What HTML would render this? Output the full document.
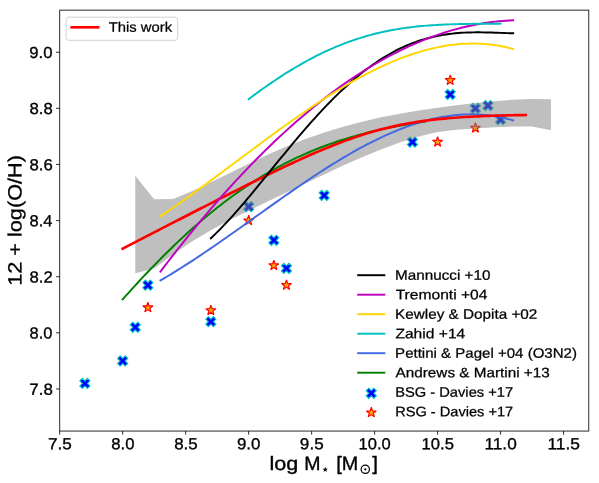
<!DOCTYPE html><html><head><meta charset="utf-8"><style>html,body{margin:0;padding:0;background:#fff}text{text-rendering:geometricPrecision;stroke:#000;stroke-width:.32px;stroke-linejoin:round}</style></head><body><svg width="599" height="483" viewBox="0 0 599 483" style="display:block;font-family:'Liberation Sans',sans-serif;will-change:transform">
<rect width="599" height="483" fill="#fff"/>
<defs>
<path id="mx" d="M-2.54 -5.08 L0.00 -2.54 L2.54 -5.08 L5.08 -2.54 L2.54 0.00 L5.08 2.54 L2.54 5.08 L0.00 2.54 L-2.54 5.08 L-5.08 2.54 L-2.54 0.00 L-5.08 -2.54Z" fill="#0000ff" stroke="#00c4c4" stroke-width="1.1" stroke-linejoin="miter"/>
<path id="ms" d="M0.00 -5.30 L-1.19 -1.64 L-5.04 -1.64 L-1.93 0.63 L-3.12 4.29 L-0.00 2.02 L3.12 4.29 L1.93 0.63 L5.04 -1.64 L1.19 -1.64Z" fill="#ffa500" stroke="#ff0000" stroke-width="1.15" stroke-linejoin="bevel"/>
<path id="mxs" d="M-2.54 -5.08 L0.00 -2.54 L2.54 -5.08 L5.08 -2.54 L2.54 0.00 L5.08 2.54 L2.54 5.08 L0.00 2.54 L-2.54 5.08 L-5.08 2.54 L-2.54 0.00 L-5.08 -2.54Z" fill="#0000ff" stroke="#00c4c4" stroke-width="1.3" stroke-linejoin="miter" transform="scale(0.62)"/>
<path id="mss" d="M0.00 -3.40 L-0.76 -1.05 L-3.23 -1.05 L-1.24 0.40 L-2.00 2.75 L-0.00 1.30 L2.00 2.75 L1.24 0.40 L3.23 -1.05 L0.76 -1.05Z" fill="#ffa500" stroke="#ff0000" stroke-width="1.0" stroke-linejoin="miter"/>
<clipPath id="ax"><rect x="59.70" y="10.15" width="529.05" height="420.90"/></clipPath>
</defs>
<use href="#mx" x="84.89" y="383.40"/>
<use href="#mx" x="122.68" y="360.95"/>
<use href="#mx" x="135.28" y="327.28"/>
<use href="#mx" x="147.87" y="285.19"/>
<use href="#mx" x="210.86" y="321.67"/>
<use href="#mx" x="248.65" y="206.62"/>
<use href="#mx" x="273.84" y="240.29"/>
<use href="#mx" x="286.44" y="268.35"/>
<use href="#mx" x="324.22" y="195.40"/>
<use href="#mx" x="412.40" y="142.08"/>
<use href="#mx" x="450.19" y="94.38"/>
<use href="#mx" x="475.38" y="108.41"/>
<use href="#mx" x="487.98" y="105.60"/>
<use href="#mx" x="500.57" y="119.63"/>
<use href="#ms" x="147.87" y="307.59"/>
<use href="#ms" x="210.86" y="310.39"/>
<use href="#ms" x="248.65" y="220.60"/>
<use href="#ms" x="273.84" y="265.50"/>
<use href="#ms" x="286.44" y="285.14"/>
<use href="#ms" x="437.59" y="142.03"/>
<use href="#ms" x="450.19" y="80.30"/>
<use href="#ms" x="475.38" y="128.00"/>
<path d="M135.28 175.70 L154.17 199.27 L173.07 199.05 L191.96 191.21 L210.86 182.31 L229.75 172.99 L248.65 163.71 L267.54 154.82 L286.44 146.57 L305.33 139.09 L324.23 132.45 L343.12 126.66 L362.01 121.66 L380.91 117.36 L399.80 113.67 L418.70 110.48 L437.59 107.68 L456.49 105.21 L475.38 103.03 L494.28 101.17 L513.17 99.70 L532.07 98.88 L550.96 99.18 L550.96 130.30 L532.07 126.54 L513.17 126.60 L494.28 127.16 L475.38 128.51 L456.49 129.74 L437.59 131.99 L418.70 136.60 L399.80 142.47 L380.91 149.40 L362.01 157.19 L343.12 165.60 L324.23 174.39 L305.33 183.39 L286.44 192.44 L267.54 201.52 L248.65 210.67 L229.75 220.10 L210.86 230.19 L191.96 241.48 L173.07 254.38 L154.17 268.58 L135.28 273.18 Z" fill="#808080" fill-opacity="0.5"/>
<path d="M122.68 299.38 L125.74 295.95 L128.79 292.55 L131.84 289.17 L134.90 285.83 L137.95 282.51 L141.00 279.21 L144.06 275.95 L147.11 272.72 L150.17 269.52 L153.22 266.34 L156.27 263.20 L159.33 260.09 L162.38 257.01 L165.43 253.97 L168.49 250.95 L171.54 247.97 L174.59 245.03 L177.65 242.12 L180.70 239.24 L183.76 236.40 L186.81 233.59 L189.86 230.82 L192.92 228.09 L195.97 225.39 L199.02 222.73 L202.08 220.10 L205.13 217.52 L208.19 214.97 L211.24 212.46 L214.29 209.99 L217.35 207.55 L220.40 205.15 L223.45 202.80 L226.51 200.48 L229.56 198.20 L232.61 195.96 L235.67 193.75 L238.72 191.59 L241.78 189.46 L244.83 187.38 L247.88 185.33 L250.94 183.32 L253.99 181.35 L257.04 179.42 L260.10 177.53 L263.15 175.67 L266.21 173.85 L269.26 172.08 L272.31 170.33 L275.37 168.63 L278.42 166.96 L281.47 165.33 L284.53 163.73 L287.58 162.18 L290.63 160.65 L293.69 159.16 L296.74 157.71 L299.80 156.29 L302.85 154.91 L305.90 153.55 L308.96 152.23 L312.01 150.95 L315.06 149.69 L318.12 148.47 L321.17 147.28 L324.22 146.12 L327.28 144.99 L330.33 143.89 L333.39 142.82 L336.44 141.78 L339.49 140.76 L342.55 139.77 L345.60 138.81 L348.65 137.88 L351.71 136.97 L354.76 136.09 L357.82 135.23 L360.87 134.40 L363.92 133.59 L366.98 132.80 L370.03 132.04 L373.08 131.30 L376.14 130.58 L379.19 129.88 L382.24 129.20 L385.30 128.54 L388.35 127.91 L391.41 127.29 L394.46 126.69 L397.51 126.11 L400.57 125.54 L403.62 125.00 L406.67 124.47 L409.73 123.95 L412.78 123.46 L415.84 122.97 L418.89 122.51 L421.94 122.06 L425.00 121.62" fill="none" stroke="#008000" stroke-width="1.95" stroke-linecap="square" stroke-linejoin="round"/>
<path d="M160.47 280.45 L164.03 278.37 L167.60 276.25 L171.16 274.10 L174.72 271.92 L178.28 269.70 L181.85 267.46 L185.41 265.19 L188.97 262.89 L192.54 260.57 L196.10 258.22 L199.66 255.86 L203.22 253.47 L206.79 251.06 L210.35 248.63 L213.91 246.18 L217.47 243.72 L221.04 241.25 L224.60 238.76 L228.16 236.26 L231.72 233.75 L235.29 231.23 L238.85 228.71 L242.41 226.17 L245.97 223.64 L249.54 221.10 L253.10 218.56 L256.66 216.01 L260.22 213.47 L263.79 210.93 L267.35 208.40 L270.91 205.87 L274.48 203.34 L278.04 200.83 L281.60 198.32 L285.16 195.82 L288.73 193.34 L292.29 190.87 L295.85 188.41 L299.41 185.97 L302.98 183.54 L306.54 181.14 L310.10 178.75 L313.66 176.39 L317.23 174.04 L320.79 171.73 L324.35 169.43 L327.91 167.17 L331.48 164.93 L335.04 162.72 L338.60 160.55 L342.17 158.40 L345.73 156.29 L349.29 154.22 L352.85 152.18 L356.42 150.18 L359.98 148.22 L363.54 146.30 L367.10 144.42 L370.67 142.58 L374.23 140.79 L377.79 139.04 L381.35 137.35 L384.92 135.70 L388.48 134.10 L392.04 132.55 L395.60 131.06 L399.17 129.62 L402.73 128.23 L406.29 126.91 L409.86 125.64 L413.42 124.43 L416.98 123.28 L420.54 122.19 L424.11 121.17 L427.67 120.21 L431.23 119.32 L434.79 118.50 L438.36 117.75 L441.92 117.07 L445.48 116.46 L449.04 115.92 L452.61 115.46 L456.17 115.07 L459.73 114.77 L463.29 114.54 L466.86 114.39 L470.42 114.32 L473.98 114.34 L477.55 114.44 L481.11 114.63 L484.67 114.90 L488.23 115.26 L491.80 115.71 L495.36 116.26 L498.92 116.89 L502.48 117.62 L506.05 118.45 L509.61 119.37 L513.17 120.39" fill="none" stroke="#4169e1" stroke-width="1.95" stroke-linecap="square" stroke-linejoin="round"/>
<path d="M122.68 248.62 L126.07 246.88 L129.46 245.13 L132.84 243.38 L136.23 241.63 L139.62 239.88 L143.01 238.14 L146.39 236.39 L149.78 234.64 L153.17 232.90 L156.55 231.15 L159.94 229.41 L163.33 227.66 L166.72 225.92 L170.10 224.18 L173.49 222.43 L176.88 220.69 L180.27 218.95 L183.65 217.21 L187.04 215.48 L190.43 213.74 L193.81 212.00 L197.20 210.27 L200.59 208.54 L203.98 206.81 L207.36 205.08 L210.75 203.35 L214.14 201.63 L217.53 199.91 L220.91 198.19 L224.30 196.47 L227.69 194.76 L231.07 193.05 L234.46 191.34 L237.85 189.64 L241.24 187.94 L244.62 186.24 L248.01 184.55 L251.40 182.87 L254.79 181.19 L258.17 179.51 L261.56 177.85 L264.95 176.19 L268.33 174.54 L271.72 172.89 L275.11 171.26 L278.50 169.63 L281.88 168.01 L285.27 166.41 L288.66 164.81 L292.05 163.23 L295.43 161.66 L298.82 160.11 L302.21 158.57 L305.59 157.04 L308.98 155.53 L312.37 154.04 L315.76 152.57 L319.14 151.12 L322.53 149.69 L325.92 148.28 L329.31 146.90 L332.69 145.54 L336.08 144.21 L339.47 142.90 L342.86 141.62 L346.24 140.37 L349.63 139.15 L353.02 137.96 L356.40 136.80 L359.79 135.68 L363.18 134.59 L366.57 133.53 L369.95 132.51 L373.34 131.52 L376.73 130.57 L380.12 129.65 L383.50 128.77 L386.89 127.93 L390.28 127.12 L393.66 126.35 L397.05 125.61 L400.44 124.91 L403.83 124.24 L407.21 123.61 L410.60 123.01 L413.99 122.44 L417.38 121.90 L420.76 121.40 L424.15 120.92 L427.54 120.47 L430.92 120.04 L434.31 119.65 L437.70 119.27 L441.09 118.93 L444.47 118.60 L447.86 118.29 L451.25 118.01 L454.64 117.74 L458.02 117.49 L461.41 117.26 L464.80 117.05 L468.18 116.85 L471.57 116.66 L474.96 116.49 L478.35 116.33 L481.73 116.18 L485.12 116.04 L488.51 115.92 L491.90 115.80 L495.28 115.69 L498.67 115.59 L502.06 115.49 L505.44 115.41 L508.83 115.33 L512.22 115.25 L515.61 115.18 L518.99 115.12 L522.38 115.06 L525.77 115.01" fill="none" stroke="#ff0000" stroke-width="2.65" stroke-linecap="square" stroke-linejoin="round"/>
<path d="M210.86 238.27 L213.91 235.38 L216.96 232.40 L220.02 229.33 L223.07 226.17 L226.13 222.94 L229.18 219.65 L232.23 216.28 L235.29 212.86 L238.34 209.38 L241.39 205.85 L244.45 202.28 L247.50 198.67 L250.55 195.03 L253.61 191.36 L256.66 187.66 L259.72 183.95 L262.77 180.21 L265.82 176.47 L268.88 172.72 L271.93 168.97 L274.98 165.22 L278.04 161.48 L281.09 157.74 L284.15 154.02 L287.20 150.32 L290.25 146.63 L293.31 142.97 L296.36 139.34 L299.41 135.74 L302.47 132.17 L305.52 128.63 L308.57 125.14 L311.63 121.69 L314.68 118.28 L317.74 114.92 L320.79 111.61 L323.84 108.35 L326.90 105.15 L329.95 102.00 L333.00 98.91 L336.06 95.88 L339.11 92.92 L342.17 90.01 L345.22 87.18 L348.27 84.41 L351.33 81.70 L354.38 79.07 L357.43 76.51 L360.49 74.02 L363.54 71.60 L366.59 69.26 L369.65 66.99 L372.70 64.80 L375.76 62.68 L378.81 60.64 L381.86 58.67 L384.92 56.78 L387.97 54.97 L391.02 53.23 L394.08 51.57 L397.13 49.99 L400.19 48.48 L403.24 47.05 L406.29 45.69 L409.35 44.41 L412.40 43.20 L415.45 42.06 L418.51 41.00 L421.56 40.01 L424.61 39.08 L427.67 38.22 L430.72 37.44 L433.78 36.71 L436.83 36.05 L439.88 35.45 L442.94 34.91 L445.99 34.43 L449.04 34.01 L452.10 33.64 L455.15 33.32 L458.21 33.05 L461.26 32.83 L464.31 32.65 L467.37 32.51 L470.42 32.42 L473.47 32.36 L476.53 32.33 L479.58 32.33 L482.63 32.36 L485.69 32.41 L488.74 32.48 L491.80 32.57 L494.85 32.67 L497.90 32.78 L500.96 32.89 L504.01 33.01 L507.06 33.12 L510.12 33.23 L513.17 33.32" fill="none" stroke="#000000" stroke-width="1.95" stroke-linecap="square" stroke-linejoin="round"/>
<path d="M160.47 271.62 L164.03 266.92 L167.60 262.26 L171.16 257.64 L174.72 253.06 L178.28 248.52 L181.85 244.02 L185.41 239.56 L188.97 235.14 L192.54 230.76 L196.10 226.42 L199.66 222.13 L203.22 217.87 L206.79 213.66 L210.35 209.48 L213.91 205.35 L217.47 201.26 L221.04 197.21 L224.60 193.21 L228.16 189.24 L231.72 185.32 L235.29 181.44 L238.85 177.60 L242.41 173.80 L245.97 170.05 L249.54 166.34 L253.10 162.67 L256.66 159.05 L260.22 155.47 L263.79 151.93 L267.35 148.44 L270.91 144.99 L274.48 141.58 L278.04 138.22 L281.60 134.90 L285.16 131.62 L288.73 128.39 L292.29 125.21 L295.85 122.07 L299.41 118.97 L302.98 115.92 L306.54 112.91 L310.10 109.95 L313.66 107.04 L317.23 104.16 L320.79 101.34 L324.35 98.56 L327.91 95.83 L331.48 93.14 L335.04 90.50 L338.60 87.90 L342.17 85.36 L345.73 82.85 L349.29 80.40 L352.85 77.99 L356.42 75.63 L359.98 73.31 L363.54 71.05 L367.10 68.83 L370.67 66.66 L374.23 64.53 L377.79 62.45 L381.35 60.43 L384.92 58.45 L388.48 56.51 L392.04 54.63 L395.60 52.79 L399.17 51.01 L402.73 49.27 L406.29 47.58 L409.86 45.94 L413.42 44.35 L416.98 42.81 L420.54 41.31 L424.11 39.87 L427.67 38.48 L431.23 37.14 L434.79 35.84 L438.36 34.60 L441.92 33.41 L445.48 32.27 L449.04 31.17 L452.61 30.13 L456.17 29.14 L459.73 28.20 L463.29 27.32 L466.86 26.48 L470.42 25.69 L473.98 24.96 L477.55 24.28 L481.11 23.65 L484.67 23.07 L488.23 22.55 L491.80 22.07 L495.36 21.65 L498.92 21.28 L502.48 20.96 L506.05 20.70 L509.61 20.49 L513.17 20.33" fill="none" stroke="#bf00bf" stroke-width="1.95" stroke-linecap="square" stroke-linejoin="round"/>
<path d="M160.47 216.28 L164.03 213.88 L167.60 211.46 L171.16 209.01 L174.72 206.54 L178.28 204.05 L181.85 201.54 L185.41 199.01 L188.97 196.46 L192.54 193.90 L196.10 191.32 L199.66 188.73 L203.22 186.12 L206.79 183.50 L210.35 180.88 L213.91 178.24 L217.47 175.60 L221.04 172.95 L224.60 170.29 L228.16 167.64 L231.72 164.97 L235.29 162.31 L238.85 159.65 L242.41 156.98 L245.97 154.32 L249.54 151.66 L253.10 149.01 L256.66 146.36 L260.22 143.72 L263.79 141.09 L267.35 138.46 L270.91 135.85 L274.48 133.25 L278.04 130.66 L281.60 128.08 L285.16 125.52 L288.73 122.98 L292.29 120.45 L295.85 117.95 L299.41 115.46 L302.98 113.00 L306.54 110.55 L310.10 108.14 L313.66 105.74 L317.23 103.37 L320.79 101.03 L324.35 98.72 L327.91 96.44 L331.48 94.19 L335.04 91.97 L338.60 89.79 L342.17 87.64 L345.73 85.52 L349.29 83.45 L352.85 81.41 L356.42 79.41 L359.98 77.45 L363.54 75.53 L367.10 73.66 L370.67 71.83 L374.23 70.05 L377.79 68.31 L381.35 66.63 L384.92 64.99 L388.48 63.40 L392.04 61.86 L395.60 60.38 L399.17 58.95 L402.73 57.57 L406.29 56.25 L409.86 54.99 L413.42 53.79 L416.98 52.65 L420.54 51.57 L424.11 50.56 L427.67 49.60 L431.23 48.71 L434.79 47.89 L438.36 47.14 L441.92 46.45 L445.48 45.83 L449.04 45.29 L452.61 44.82 L456.17 44.42 L459.73 44.09 L463.29 43.84 L466.86 43.67 L470.42 43.58 L473.98 43.57 L477.55 43.63 L481.11 43.78 L484.67 44.01 L488.23 44.33 L491.80 44.73 L495.36 45.22 L498.92 45.80 L502.48 46.47 L506.05 47.22 L509.61 48.07 L513.17 49.01" fill="none" stroke="#ffd700" stroke-width="1.95" stroke-linecap="square" stroke-linejoin="round"/>
<path d="M248.65 99.17 L251.19 97.26 L253.74 95.36 L256.28 93.48 L258.83 91.62 L261.37 89.79 L263.91 87.98 L266.46 86.18 L269.00 84.42 L271.55 82.67 L274.09 80.95 L276.64 79.24 L279.18 77.57 L281.73 75.91 L284.27 74.29 L286.82 72.68 L289.36 71.10 L291.91 69.55 L294.45 68.02 L297.00 66.51 L299.54 65.04 L302.09 63.59 L304.63 62.16 L307.18 60.76 L309.72 59.39 L312.26 58.05 L314.81 56.73 L317.35 55.44 L319.90 54.18 L322.44 52.94 L324.99 51.74 L327.53 50.56 L330.08 49.41 L332.62 48.29 L335.17 47.19 L337.71 46.13 L340.26 45.09 L342.80 44.09 L345.35 43.11 L347.89 42.16 L350.44 41.24 L352.98 40.34 L355.53 39.48 L358.07 38.64 L360.61 37.84 L363.16 37.06 L365.70 36.30 L368.25 35.58 L370.79 34.88 L373.34 34.21 L375.88 33.57 L378.43 32.95 L380.97 32.36 L383.52 31.80 L386.06 31.26 L388.61 30.74 L391.15 30.25 L393.70 29.79 L396.24 29.34 L398.79 28.92 L401.33 28.53 L403.88 28.15 L406.42 27.80 L408.96 27.46 L411.51 27.15 L414.05 26.86 L416.60 26.58 L419.14 26.32 L421.69 26.08 L424.23 25.86 L426.78 25.65 L429.32 25.46 L431.87 25.28 L434.41 25.11 L436.96 24.96 L439.50 24.82 L442.05 24.69 L444.59 24.58 L447.14 24.47 L449.68 24.37 L452.23 24.29 L454.77 24.21 L457.31 24.14 L459.86 24.07 L462.40 24.01 L464.95 23.96 L467.49 23.92 L470.04 23.88 L472.58 23.84 L475.13 23.81 L477.67 23.78 L480.22 23.76 L482.76 23.74 L485.31 23.72 L487.85 23.70 L490.40 23.69 L492.94 23.68 L495.49 23.67 L498.03 23.66 L500.57 23.65" fill="none" stroke="#00bfbf" stroke-width="1.95" stroke-linecap="square" stroke-linejoin="round"/>
<g stroke="#000" stroke-width="0.95" fill="none" stroke-opacity="0.88">
<rect x="59.70" y="10.15" width="529.05" height="420.90"/>
<path d="M59.70 431.05 v3.6"/>
<path d="M122.68 431.05 v3.6"/>
<path d="M185.66 431.05 v3.6"/>
<path d="M248.65 431.05 v3.6"/>
<path d="M311.63 431.05 v3.6"/>
<path d="M374.61 431.05 v3.6"/>
<path d="M437.59 431.05 v3.6"/>
<path d="M500.57 431.05 v3.6"/>
<path d="M563.56 431.05 v3.6"/>
<path d="M59.70 388.96 h-3.6"/>
<path d="M59.70 332.84 h-3.6"/>
<path d="M59.70 276.72 h-3.6"/>
<path d="M59.70 220.60 h-3.6"/>
<path d="M59.70 164.48 h-3.6"/>
<path d="M59.70 108.36 h-3.6"/>
<path d="M59.70 52.24 h-3.6"/>
</g>
<text x="47.95" y="449.20" font-size="16.00" text-anchor="start" transform="rotate(0.03 47.95 449.20)" textLength="23.80" lengthAdjust="spacingAndGlyphs" >7.5</text>
<text x="111.21" y="449.20" font-size="16.00" text-anchor="start" transform="rotate(0.03 111.21 449.20)" textLength="23.24" lengthAdjust="spacingAndGlyphs" >8.0</text>
<text x="174.19" y="449.20" font-size="16.00" text-anchor="start" transform="rotate(0.03 174.19 449.20)" textLength="23.51" lengthAdjust="spacingAndGlyphs" >8.5</text>
<text x="236.90" y="449.20" font-size="16.00" text-anchor="start" transform="rotate(0.03 236.90 449.20)" textLength="23.51" lengthAdjust="spacingAndGlyphs" >9.0</text>
<text x="299.88" y="449.20" font-size="16.00" text-anchor="start" transform="rotate(0.03 299.88 449.20)" textLength="23.80" lengthAdjust="spacingAndGlyphs" >9.5</text>
<text x="358.58" y="449.20" font-size="16.00" text-anchor="start" transform="rotate(0.03 358.58 449.20)" textLength="32.14" lengthAdjust="spacingAndGlyphs" >10.0</text>
<text x="421.55" y="449.20" font-size="16.00" text-anchor="start" transform="rotate(0.03 421.55 449.20)" textLength="32.42" lengthAdjust="spacingAndGlyphs" >10.5</text>
<text x="484.50" y="449.20" font-size="16.00" text-anchor="start" transform="rotate(0.03 484.50 449.20)" textLength="32.20" lengthAdjust="spacingAndGlyphs" >11.0</text>
<text x="547.47" y="449.20" font-size="16.00" text-anchor="start" transform="rotate(0.03 547.47 449.20)" textLength="32.49" lengthAdjust="spacingAndGlyphs" >11.5</text>
<text x="29.31" y="394.66" font-size="16.00" text-anchor="start" transform="rotate(0.03 29.31 394.66)" textLength="23.48" lengthAdjust="spacingAndGlyphs" >7.8</text>
<text x="29.58" y="338.54" font-size="16.00" text-anchor="start" transform="rotate(0.03 29.58 338.54)" textLength="22.93" lengthAdjust="spacingAndGlyphs" >8.0</text>
<text x="29.58" y="282.42" font-size="16.00" text-anchor="start" transform="rotate(0.03 29.58 282.42)" textLength="23.20" lengthAdjust="spacingAndGlyphs" >8.2</text>
<text x="29.58" y="226.30" font-size="16.00" text-anchor="start" transform="rotate(0.03 29.58 226.30)" textLength="22.93" lengthAdjust="spacingAndGlyphs" >8.4</text>
<text x="29.58" y="170.18" font-size="16.00" text-anchor="start" transform="rotate(0.03 29.58 170.18)" textLength="23.20" lengthAdjust="spacingAndGlyphs" >8.6</text>
<text x="29.58" y="114.06" font-size="16.00" text-anchor="start" transform="rotate(0.03 29.58 114.06)" textLength="23.20" lengthAdjust="spacingAndGlyphs" >8.8</text>
<text x="29.32" y="57.94" font-size="16.00" text-anchor="start" transform="rotate(0.03 29.32 57.94)" textLength="23.20" lengthAdjust="spacingAndGlyphs" >9.0</text>
<text x="269.55" y="469.90" font-size="19.30" text-anchor="start" transform="rotate(0.03 269.55 469.90)" textLength="28.76" lengthAdjust="spacingAndGlyphs" style="stroke-width:.38px">log</text>
<text x="304.18" y="469.90" font-size="19.30" text-anchor="start" transform="rotate(0.03 304.18 469.90)" textLength="16.24" lengthAdjust="spacingAndGlyphs" style="stroke-width:.38px">M</text>
<path d="M0.00 -2.90 L-0.68 -0.94 L-2.76 -0.90 L-1.10 0.36 L-1.70 2.35 L-0.00 1.16 L1.70 2.35 L1.10 0.36 L2.76 -0.90 L0.68 -0.94Z" fill="#000" transform="translate(325.2 469.7)"/>
<text x="336.34" y="469.90" font-size="19.30" text-anchor="start" transform="rotate(0.03 336.34 469.90)" textLength="5.59" lengthAdjust="spacingAndGlyphs" style="stroke-width:.38px">[</text>
<text x="341.65" y="469.90" font-size="19.30" text-anchor="start" transform="rotate(0.03 341.65 469.90)" textLength="16.48" lengthAdjust="spacingAndGlyphs" style="stroke-width:.38px">M</text>
<circle cx="365.3" cy="469.3" r="4.15" fill="none" stroke="#000" stroke-width="1.25"/><circle cx="365.3" cy="469.3" r="1.15" fill="#000"/>
<text x="372.30" y="469.90" font-size="19.30" text-anchor="start" transform="rotate(0.03 372.30 469.90)" textLength="5.72" lengthAdjust="spacingAndGlyphs" style="stroke-width:.38px">]</text>
<text transform="translate(21.4 284.5) rotate(-89.97)" x="-1.36" y="0" font-size="19.30" textLength="130.78" lengthAdjust="spacingAndGlyphs" style="stroke-width:.3px">12 + log(O/H)</text>
<rect x="66.1" y="17.2" width="111.6" height="23.1" rx="2.6" fill="#fff" fill-opacity="0.8" stroke="#cccccc" stroke-width="0.9"/>
<path d="M70.4 27.3 H99.5" stroke="#ff0000" stroke-width="2.65"/>
<text x="108.77" y="31.70" font-size="13.70" text-anchor="start" transform="rotate(0.03 108.77 31.70)" textLength="63.30" lengthAdjust="spacingAndGlyphs" style="stroke-width:.25px">This work</text>
<path d="M357.2 275.20 H385.3" stroke="#000000" stroke-width="1.95"/>
<text x="395.11" y="279.65" font-size="13.70" text-anchor="start" transform="rotate(0.03 395.11 279.65)" textLength="95.37" lengthAdjust="spacingAndGlyphs" style="stroke-width:.25px">Mannucci +10</text>
<path d="M357.2 294.70 H385.3" stroke="#bf00bf" stroke-width="1.95"/>
<text x="395.66" y="299.15" font-size="13.70" text-anchor="start" transform="rotate(0.03 395.66 299.15)" textLength="91.73" lengthAdjust="spacingAndGlyphs" style="stroke-width:.25px">Tremonti +04</text>
<path d="M357.2 314.20 H385.3" stroke="#ffd700" stroke-width="1.95"/>
<text x="395.11" y="318.65" font-size="13.70" text-anchor="start" transform="rotate(0.03 395.11 318.65)" textLength="142.21" lengthAdjust="spacingAndGlyphs" style="stroke-width:.25px">Kewley &amp; Dopita +02</text>
<path d="M357.2 333.70 H385.3" stroke="#00bfbf" stroke-width="1.95"/>
<text x="395.41" y="338.15" font-size="13.70" text-anchor="start" transform="rotate(0.03 395.41 338.15)" textLength="69.88" lengthAdjust="spacingAndGlyphs" style="stroke-width:.25px">Zahid +14</text>
<path d="M357.2 353.20 H385.3" stroke="#4169e1" stroke-width="1.95"/>
<text x="395.12" y="357.65" font-size="13.70" text-anchor="start" transform="rotate(0.03 395.12 357.65)" textLength="181.85" lengthAdjust="spacingAndGlyphs" style="stroke-width:.25px">Pettini &amp; Pagel +04 (O3N2)</text>
<path d="M357.2 372.70 H385.3" stroke="#008000" stroke-width="1.95"/>
<text x="395.60" y="377.15" font-size="13.70" text-anchor="start" transform="rotate(0.03 395.60 377.15)" textLength="154.12" lengthAdjust="spacingAndGlyphs" style="stroke-width:.25px">Andrews &amp; Martini +13</text>
<use href="#mx" x="371.3" y="393.30"/>
<text x="395.15" y="396.65" font-size="13.70" text-anchor="start" transform="rotate(0.03 395.15 396.65)" textLength="118.04" lengthAdjust="spacingAndGlyphs" style="stroke-width:.25px">BSG - Davies +17</text>
<use href="#ms" x="371.3" y="412.60"/>
<text x="395.16" y="416.15" font-size="13.70" text-anchor="start" transform="rotate(0.03 395.16 416.15)" textLength="118.03" lengthAdjust="spacingAndGlyphs" style="stroke-width:.25px">RSG - Davies +17</text>
</svg></body></html>
